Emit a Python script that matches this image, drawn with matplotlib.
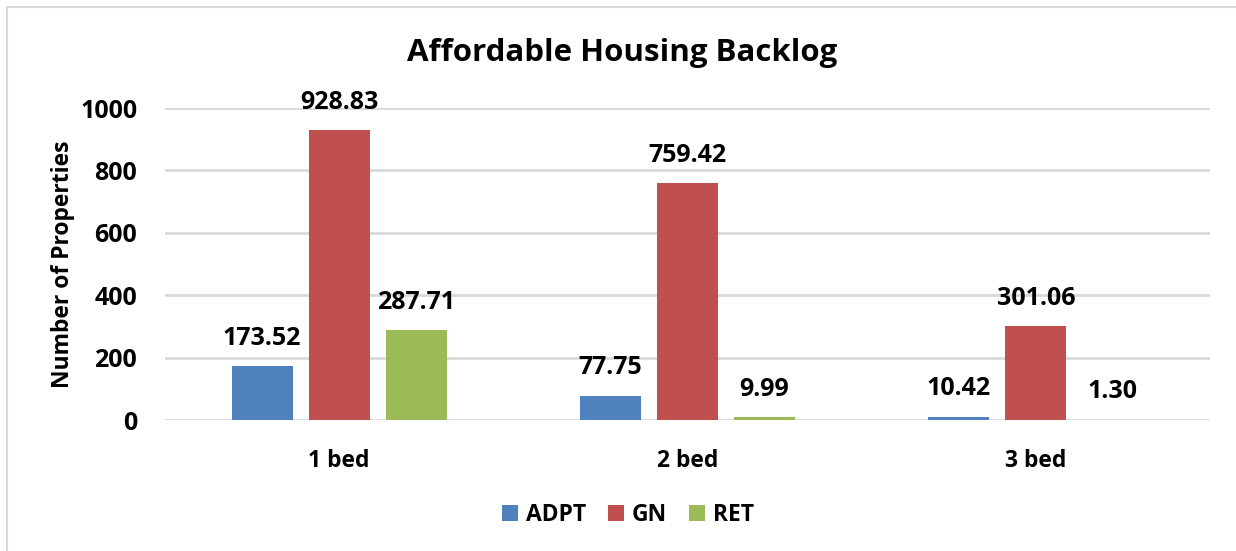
import matplotlib
matplotlib.use("Agg")
import matplotlib.pyplot as plt
import numpy as np
from matplotlib.patches import Rectangle

categories = ["1 bed", "2 bed", "3 bed"]
series_names = ["ADPT", "GN", "RET"]
adpt = [173.52, 77.75, 10.42]
gn = [928.83, 759.42, 301.06]
ret = [287.71, 9.99, 1.30]
yticks = [0, 200, 400, 600, 800, 1000]

colors = ["#4F81BD", "#C0504D", "#9BBB59"]
plt.rcParams['font.family'] = ['Open Sans', 'DejaVu Sans']
plt.rcParams['font.weight'] = 'bold'

fig = plt.figure(figsize=(12.36, 5.51), dpi=100)
fig.patches.append(Rectangle((7/1236, -0.01), 1.2, 1 - 7/551 + 0.01, transform=fig.transFigure,
                             fill=False, edgecolor="#D9D9D9", linewidth=1.5))
ax = fig.add_axes([165/1236, 1 - 420/551, (1210-165)/1236, (420-108)/551])

x = np.arange(len(categories))
width = 0.175
offset = 0.221
for i, (vals, name) in enumerate(zip([adpt, gn, ret], series_names)):
    bars = ax.bar(x + (i - 1) * offset, vals, width, color=colors[i], label=name, zorder=3)
    for b, v in zip(bars, vals):
        ax.annotate(f"{v:.2f}", (b.get_x() + b.get_width()/2, v), xytext=(0, 20),
                    textcoords="offset points", ha="center", va="center",
                    fontsize=18, fontweight="bold", color="black")

ax.set_xlim(-0.5, 2.5)
ax.set_ylim(0, 1000)
ax.set_yticks(yticks)
ax.set_xticks(x)
ax.set_xticklabels(categories)
ax.tick_params(axis='y', length=0, pad=20, labelsize=18)
ax.tick_params(axis='x', length=0, pad=21, labelsize=16.5)
for lbl in ax.get_xticklabels() + ax.get_yticklabels():
    lbl.set_fontweight("bold")
ax.grid(axis='y', color="#D9D9D9", linewidth=2, zorder=0)
for s in ax.spines.values():
    s.set_visible(False)
ax.set_ylabel("Number of Properties", fontsize=16.5, fontweight="bold", labelpad=4)
fig.text(622/1236, 1 - 53/551, "Affordable Housing Backlog", ha="center", va="center",
         fontsize=22.5, fontweight="bold")
leg = fig.legend(loc="center", bbox_to_anchor=(628/1236, 1 - 515/551), ncol=3, frameon=False,
                 fontsize=16.5, handlelength=0.7, handleheight=0.7, columnspacing=0.95, handletextpad=0.35)
for t in leg.get_texts():
    t.set_fontweight("bold")

fig.savefig("out.png", dpi=100)
